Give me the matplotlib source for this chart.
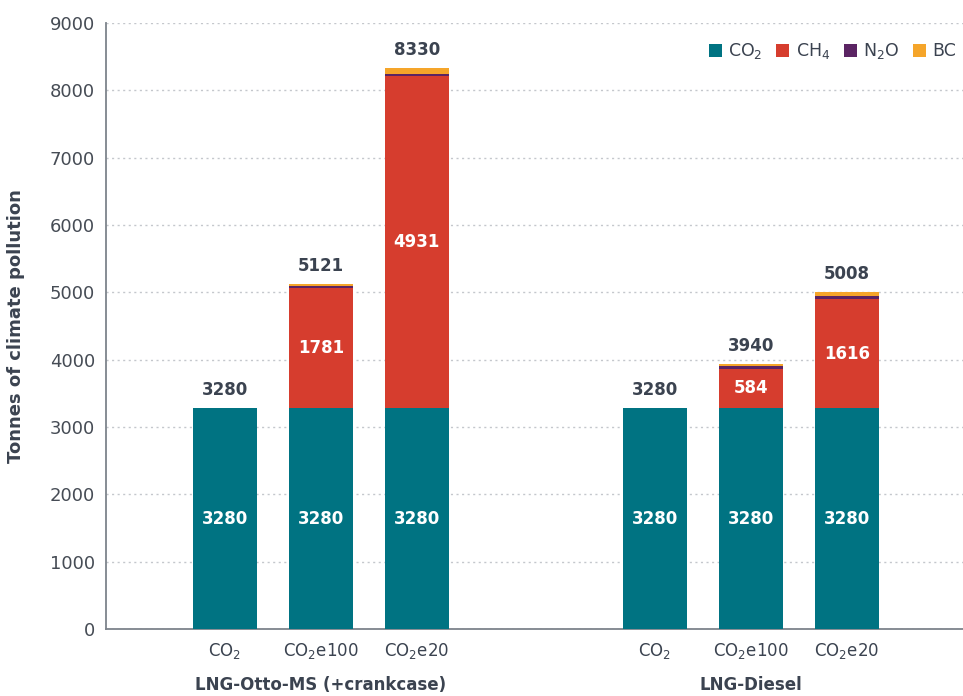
import matplotlib.pyplot as plt
import numpy as np

plt.rcParams["font.family"] = ["DejaVu Sans"]
plt.rcParams["mathtext.fontset"] = "dejavusans"

# data
groups = ["LNG-Otto-MS (+crankcase)", "LNG-Diesel"]
bar_labels = ["CO$_2$", "CO$_2$e100", "CO$_2$e20", "CO$_2$", "CO$_2$e100", "CO$_2$e20"]
co2 = [3280, 3280, 3280, 3280, 3280, 3280]
ch4 = [0, 1781, 4931, 0, 584, 1616]
n2o = [0, 32, 38, 0, 48, 50]
bc = [0, 28, 81, 0, 28, 62]
totals = [3280, 5121, 8330, 3280, 3940, 5008]

colors = {"CO$_2$": "#007382", "CH$_4$": "#d63d2e", "N$_2$O": "#5b2463", "BC": "#f5a52a"}
text_col = "#3b4350"

x = np.array([0, 1, 2, 4.48, 5.48, 6.48])
w = 0.667

fig = plt.figure(figsize=(9.63, 6.96), dpi=100)
ax = fig.add_axes([0.110, 0.0963, 0.89, 0.8707])

bottom = np.zeros(len(x))
for vals, name in [(co2, "CO$_2$"), (ch4, "CH$_4$"), (n2o, "N$_2$O"), (bc, "BC")]:
    vals = np.array(vals, dtype=float)
    ax.bar(x, vals, w, bottom=bottom, color=colors[name], label=name, zorder=3)
    bottom += vals

# segment labels
for i in range(len(x)):
    ax.text(x[i], co2[i] / 2, str(co2[i]), ha="center", va="center",
            color="white", fontsize=12, fontweight="bold", zorder=4)
    if ch4[i] > 0:
        ax.text(x[i], co2[i] + ch4[i] / 2, str(ch4[i]), ha="center", va="center",
                color="white", fontsize=12, fontweight="bold", zorder=4)
    ax.annotate(str(totals[i]), (x[i], totals[i]), xytext=(0, 13),
                textcoords="offset points", ha="center", va="center",
                color=text_col, fontsize=12, fontweight="bold")

ax.set_xlim(-1.24, 7.69)
ax.set_ylim(0, 9000)
ax.set_yticks(np.arange(0, 9001, 1000))
ax.tick_params(axis="y", length=0, labelsize=13, labelcolor="#464c55", pad=8)
ax.set_xticks(x)
ax.set_xticklabels(bar_labels)
ax.tick_params(axis="x", length=0, labelsize=12, labelcolor=text_col, pad=9)
ax.yaxis.grid(True, linestyle=(0, (1.5, 2.5)), color="#c4c7cc", linewidth=1, zorder=0)
for s in ["top", "right"]:
    ax.spines[s].set_visible(False)
for s in ["left", "bottom"]:
    ax.spines[s].set_color("#7d838b")
    ax.spines[s].set_linewidth(1.3)

ax.set_ylabel("Tonnes of climate pollution", fontsize=13, fontweight="bold",
              color=text_col, labelpad=18)

# group labels
ax.text(x[1], -0.093, groups[0], transform=ax.get_xaxis_transform(), ha="center",
        va="center", fontsize=12, fontweight="bold", color=text_col)
ax.text(x[4], -0.093, groups[1], transform=ax.get_xaxis_transform(), ha="center",
        va="center", fontsize=12, fontweight="bold", color=text_col)

fig.legend(loc="upper left", bbox_to_anchor=(0.72, 0.963), ncol=4, frameon=False,
           fontsize=12.5, handlelength=0.75, handleheight=0.75, handletextpad=0.35,
           columnspacing=0.8, labelcolor=text_col)

fig.savefig("out.png", dpi=100)
